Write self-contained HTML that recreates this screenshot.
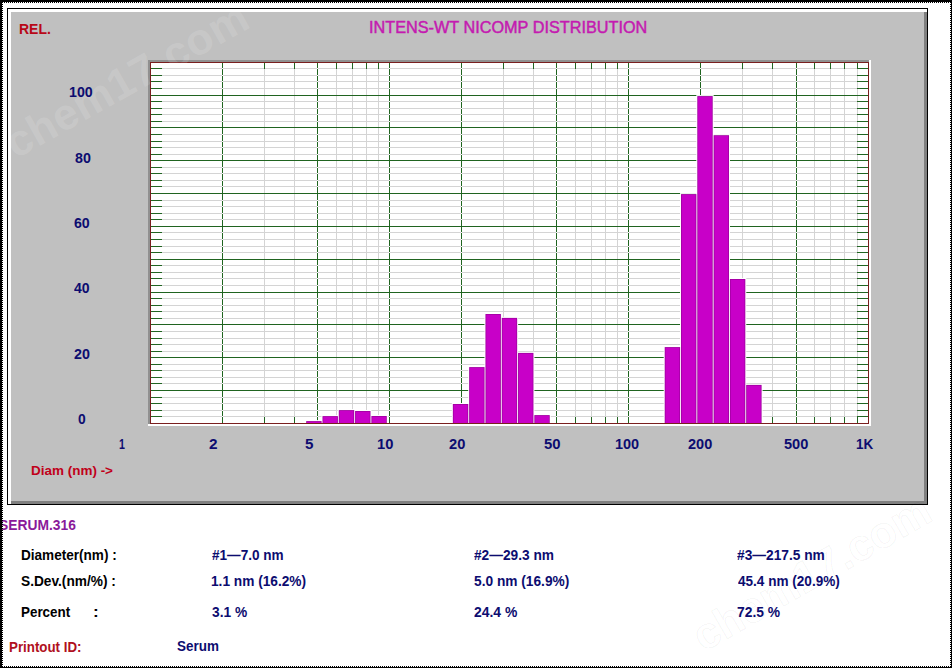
<!DOCTYPE html>
<html><head><meta charset="utf-8"><style>
html,body{margin:0;padding:0}
body{width:952px;height:668px;position:relative;overflow:hidden;background:#fff}
.wm{position:absolute;white-space:pre;line-height:1;font-family:"Liberation Sans",sans-serif;font-weight:700}
.t{position:absolute;white-space:pre;line-height:1;font-family:"Liberation Sans",sans-serif;transform-origin:0 0}
</style></head><body><div id="wrap" style="position:absolute;left:0;top:0;width:952px;height:668px;">
<svg width="952" height="668" style="position:absolute;left:0;top:0"><rect x="0.00" y="0.00" width="952.00" height="668.00" fill="#fff"/><rect x="7.00" y="8.00" width="921.00" height="497.00" fill="#000"/><rect x="8.00" y="9.00" width="919.00" height="495.00" fill="#fff"/><rect x="11.00" y="12.00" width="916.00" height="492.00" fill="#808080"/><rect x="11.00" y="12.00" width="913.00" height="489.00" fill="#c0c0c0"/><rect x="148.00" y="60.00" width="721.00" height="2.00" fill="#909090"/><rect x="148.00" y="60.00" width="2.00" height="364.00" fill="#909090"/><rect x="869.00" y="60.00" width="2.00" height="366.00" fill="#fff"/><rect x="148.00" y="424.00" width="723.00" height="2.00" fill="#fff"/><rect x="150.00" y="62.00" width="719.00" height="362.00" fill="#7a1e1e"/><rect x="151.00" y="63.00" width="717.00" height="360.00" fill="#fff"/><rect x="264.00" y="63.00" width="1.00" height="360.00" fill="#d4d4d4"/><rect x="294.00" y="63.00" width="1.00" height="360.00" fill="#d4d4d4"/><rect x="336.00" y="63.00" width="1.00" height="360.00" fill="#d4d4d4"/><rect x="352.00" y="63.00" width="1.00" height="360.00" fill="#d4d4d4"/><rect x="366.00" y="63.00" width="1.00" height="360.00" fill="#d4d4d4"/><rect x="378.00" y="63.00" width="1.00" height="360.00" fill="#d4d4d4"/><rect x="503.00" y="63.00" width="1.00" height="360.00" fill="#d4d4d4"/><rect x="533.00" y="63.00" width="1.00" height="360.00" fill="#d4d4d4"/><rect x="575.00" y="63.00" width="1.00" height="360.00" fill="#d4d4d4"/><rect x="591.00" y="63.00" width="1.00" height="360.00" fill="#d4d4d4"/><rect x="605.00" y="63.00" width="1.00" height="360.00" fill="#d4d4d4"/><rect x="617.00" y="63.00" width="1.00" height="360.00" fill="#d4d4d4"/><rect x="742.00" y="63.00" width="1.00" height="360.00" fill="#d4d4d4"/><rect x="772.00" y="63.00" width="1.00" height="360.00" fill="#d4d4d4"/><rect x="814.00" y="63.00" width="1.00" height="360.00" fill="#d4d4d4"/><rect x="830.00" y="63.00" width="1.00" height="360.00" fill="#d4d4d4"/><rect x="844.00" y="63.00" width="1.00" height="360.00" fill="#d4d4d4"/><rect x="857.00" y="63.00" width="1.00" height="360.00" fill="#d4d4d4"/><rect x="222.00" y="63.00" width="1.00" height="360.00" fill="#206420"/><rect x="317.00" y="63.00" width="1.00" height="360.00" fill="#206420"/><rect x="389.00" y="63.00" width="1.00" height="360.00" fill="#206420"/><rect x="461.00" y="63.00" width="1.00" height="360.00" fill="#206420"/><rect x="556.00" y="63.00" width="1.00" height="360.00" fill="#206420"/><rect x="628.00" y="63.00" width="1.00" height="360.00" fill="#206420"/><rect x="700.00" y="63.00" width="1.00" height="360.00" fill="#206420"/><rect x="796.00" y="63.00" width="1.00" height="360.00" fill="#206420"/><rect x="151.00" y="416.00" width="717.00" height="1.00" fill="#d4d4d4"/><rect x="222.00" y="416.00" width="1.00" height="1.00" fill="#f4f4f4"/><rect x="317.00" y="416.00" width="1.00" height="1.00" fill="#f4f4f4"/><rect x="389.00" y="416.00" width="1.00" height="1.00" fill="#f4f4f4"/><rect x="461.00" y="416.00" width="1.00" height="1.00" fill="#f4f4f4"/><rect x="556.00" y="416.00" width="1.00" height="1.00" fill="#f4f4f4"/><rect x="628.00" y="416.00" width="1.00" height="1.00" fill="#f4f4f4"/><rect x="700.00" y="416.00" width="1.00" height="1.00" fill="#f4f4f4"/><rect x="796.00" y="416.00" width="1.00" height="1.00" fill="#f4f4f4"/><rect x="151.00" y="416.00" width="11.00" height="1.00" fill="#206420"/><rect x="857.00" y="416.00" width="11.00" height="1.00" fill="#206420"/><rect x="151.00" y="410.00" width="717.00" height="1.00" fill="#d4d4d4"/><rect x="222.00" y="410.00" width="1.00" height="1.00" fill="#f4f4f4"/><rect x="317.00" y="410.00" width="1.00" height="1.00" fill="#f4f4f4"/><rect x="389.00" y="410.00" width="1.00" height="1.00" fill="#f4f4f4"/><rect x="461.00" y="410.00" width="1.00" height="1.00" fill="#f4f4f4"/><rect x="556.00" y="410.00" width="1.00" height="1.00" fill="#f4f4f4"/><rect x="628.00" y="410.00" width="1.00" height="1.00" fill="#f4f4f4"/><rect x="700.00" y="410.00" width="1.00" height="1.00" fill="#f4f4f4"/><rect x="796.00" y="410.00" width="1.00" height="1.00" fill="#f4f4f4"/><rect x="151.00" y="410.00" width="11.00" height="1.00" fill="#206420"/><rect x="857.00" y="410.00" width="11.00" height="1.00" fill="#206420"/><rect x="151.00" y="403.00" width="717.00" height="1.00" fill="#d4d4d4"/><rect x="222.00" y="403.00" width="1.00" height="1.00" fill="#f4f4f4"/><rect x="317.00" y="403.00" width="1.00" height="1.00" fill="#f4f4f4"/><rect x="389.00" y="403.00" width="1.00" height="1.00" fill="#f4f4f4"/><rect x="461.00" y="403.00" width="1.00" height="1.00" fill="#f4f4f4"/><rect x="556.00" y="403.00" width="1.00" height="1.00" fill="#f4f4f4"/><rect x="628.00" y="403.00" width="1.00" height="1.00" fill="#f4f4f4"/><rect x="700.00" y="403.00" width="1.00" height="1.00" fill="#f4f4f4"/><rect x="796.00" y="403.00" width="1.00" height="1.00" fill="#f4f4f4"/><rect x="151.00" y="403.00" width="11.00" height="1.00" fill="#206420"/><rect x="857.00" y="403.00" width="11.00" height="1.00" fill="#206420"/><rect x="151.00" y="397.00" width="717.00" height="1.00" fill="#d4d4d4"/><rect x="222.00" y="397.00" width="1.00" height="1.00" fill="#f4f4f4"/><rect x="317.00" y="397.00" width="1.00" height="1.00" fill="#f4f4f4"/><rect x="389.00" y="397.00" width="1.00" height="1.00" fill="#f4f4f4"/><rect x="461.00" y="397.00" width="1.00" height="1.00" fill="#f4f4f4"/><rect x="556.00" y="397.00" width="1.00" height="1.00" fill="#f4f4f4"/><rect x="628.00" y="397.00" width="1.00" height="1.00" fill="#f4f4f4"/><rect x="700.00" y="397.00" width="1.00" height="1.00" fill="#f4f4f4"/><rect x="796.00" y="397.00" width="1.00" height="1.00" fill="#f4f4f4"/><rect x="151.00" y="397.00" width="11.00" height="1.00" fill="#206420"/><rect x="857.00" y="397.00" width="11.00" height="1.00" fill="#206420"/><rect x="151.00" y="383.00" width="717.00" height="1.00" fill="#d4d4d4"/><rect x="222.00" y="383.00" width="1.00" height="1.00" fill="#f4f4f4"/><rect x="317.00" y="383.00" width="1.00" height="1.00" fill="#f4f4f4"/><rect x="389.00" y="383.00" width="1.00" height="1.00" fill="#f4f4f4"/><rect x="461.00" y="383.00" width="1.00" height="1.00" fill="#f4f4f4"/><rect x="556.00" y="383.00" width="1.00" height="1.00" fill="#f4f4f4"/><rect x="628.00" y="383.00" width="1.00" height="1.00" fill="#f4f4f4"/><rect x="700.00" y="383.00" width="1.00" height="1.00" fill="#f4f4f4"/><rect x="796.00" y="383.00" width="1.00" height="1.00" fill="#f4f4f4"/><rect x="151.00" y="383.00" width="11.00" height="1.00" fill="#206420"/><rect x="857.00" y="383.00" width="11.00" height="1.00" fill="#206420"/><rect x="151.00" y="377.00" width="717.00" height="1.00" fill="#d4d4d4"/><rect x="222.00" y="377.00" width="1.00" height="1.00" fill="#f4f4f4"/><rect x="317.00" y="377.00" width="1.00" height="1.00" fill="#f4f4f4"/><rect x="389.00" y="377.00" width="1.00" height="1.00" fill="#f4f4f4"/><rect x="461.00" y="377.00" width="1.00" height="1.00" fill="#f4f4f4"/><rect x="556.00" y="377.00" width="1.00" height="1.00" fill="#f4f4f4"/><rect x="628.00" y="377.00" width="1.00" height="1.00" fill="#f4f4f4"/><rect x="700.00" y="377.00" width="1.00" height="1.00" fill="#f4f4f4"/><rect x="796.00" y="377.00" width="1.00" height="1.00" fill="#f4f4f4"/><rect x="151.00" y="377.00" width="11.00" height="1.00" fill="#206420"/><rect x="857.00" y="377.00" width="11.00" height="1.00" fill="#206420"/><rect x="151.00" y="370.00" width="717.00" height="1.00" fill="#d4d4d4"/><rect x="222.00" y="370.00" width="1.00" height="1.00" fill="#f4f4f4"/><rect x="317.00" y="370.00" width="1.00" height="1.00" fill="#f4f4f4"/><rect x="389.00" y="370.00" width="1.00" height="1.00" fill="#f4f4f4"/><rect x="461.00" y="370.00" width="1.00" height="1.00" fill="#f4f4f4"/><rect x="556.00" y="370.00" width="1.00" height="1.00" fill="#f4f4f4"/><rect x="628.00" y="370.00" width="1.00" height="1.00" fill="#f4f4f4"/><rect x="700.00" y="370.00" width="1.00" height="1.00" fill="#f4f4f4"/><rect x="796.00" y="370.00" width="1.00" height="1.00" fill="#f4f4f4"/><rect x="151.00" y="370.00" width="11.00" height="1.00" fill="#206420"/><rect x="857.00" y="370.00" width="11.00" height="1.00" fill="#206420"/><rect x="151.00" y="364.00" width="717.00" height="1.00" fill="#d4d4d4"/><rect x="222.00" y="364.00" width="1.00" height="1.00" fill="#f4f4f4"/><rect x="317.00" y="364.00" width="1.00" height="1.00" fill="#f4f4f4"/><rect x="389.00" y="364.00" width="1.00" height="1.00" fill="#f4f4f4"/><rect x="461.00" y="364.00" width="1.00" height="1.00" fill="#f4f4f4"/><rect x="556.00" y="364.00" width="1.00" height="1.00" fill="#f4f4f4"/><rect x="628.00" y="364.00" width="1.00" height="1.00" fill="#f4f4f4"/><rect x="700.00" y="364.00" width="1.00" height="1.00" fill="#f4f4f4"/><rect x="796.00" y="364.00" width="1.00" height="1.00" fill="#f4f4f4"/><rect x="151.00" y="364.00" width="11.00" height="1.00" fill="#206420"/><rect x="857.00" y="364.00" width="11.00" height="1.00" fill="#206420"/><rect x="151.00" y="351.00" width="717.00" height="1.00" fill="#d4d4d4"/><rect x="222.00" y="351.00" width="1.00" height="1.00" fill="#f4f4f4"/><rect x="317.00" y="351.00" width="1.00" height="1.00" fill="#f4f4f4"/><rect x="389.00" y="351.00" width="1.00" height="1.00" fill="#f4f4f4"/><rect x="461.00" y="351.00" width="1.00" height="1.00" fill="#f4f4f4"/><rect x="556.00" y="351.00" width="1.00" height="1.00" fill="#f4f4f4"/><rect x="628.00" y="351.00" width="1.00" height="1.00" fill="#f4f4f4"/><rect x="700.00" y="351.00" width="1.00" height="1.00" fill="#f4f4f4"/><rect x="796.00" y="351.00" width="1.00" height="1.00" fill="#f4f4f4"/><rect x="151.00" y="351.00" width="11.00" height="1.00" fill="#206420"/><rect x="857.00" y="351.00" width="11.00" height="1.00" fill="#206420"/><rect x="151.00" y="344.00" width="717.00" height="1.00" fill="#d4d4d4"/><rect x="222.00" y="344.00" width="1.00" height="1.00" fill="#f4f4f4"/><rect x="317.00" y="344.00" width="1.00" height="1.00" fill="#f4f4f4"/><rect x="389.00" y="344.00" width="1.00" height="1.00" fill="#f4f4f4"/><rect x="461.00" y="344.00" width="1.00" height="1.00" fill="#f4f4f4"/><rect x="556.00" y="344.00" width="1.00" height="1.00" fill="#f4f4f4"/><rect x="628.00" y="344.00" width="1.00" height="1.00" fill="#f4f4f4"/><rect x="700.00" y="344.00" width="1.00" height="1.00" fill="#f4f4f4"/><rect x="796.00" y="344.00" width="1.00" height="1.00" fill="#f4f4f4"/><rect x="151.00" y="344.00" width="11.00" height="1.00" fill="#206420"/><rect x="857.00" y="344.00" width="11.00" height="1.00" fill="#206420"/><rect x="151.00" y="338.00" width="717.00" height="1.00" fill="#d4d4d4"/><rect x="222.00" y="338.00" width="1.00" height="1.00" fill="#f4f4f4"/><rect x="317.00" y="338.00" width="1.00" height="1.00" fill="#f4f4f4"/><rect x="389.00" y="338.00" width="1.00" height="1.00" fill="#f4f4f4"/><rect x="461.00" y="338.00" width="1.00" height="1.00" fill="#f4f4f4"/><rect x="556.00" y="338.00" width="1.00" height="1.00" fill="#f4f4f4"/><rect x="628.00" y="338.00" width="1.00" height="1.00" fill="#f4f4f4"/><rect x="700.00" y="338.00" width="1.00" height="1.00" fill="#f4f4f4"/><rect x="796.00" y="338.00" width="1.00" height="1.00" fill="#f4f4f4"/><rect x="151.00" y="338.00" width="11.00" height="1.00" fill="#206420"/><rect x="857.00" y="338.00" width="11.00" height="1.00" fill="#206420"/><rect x="151.00" y="331.00" width="717.00" height="1.00" fill="#d4d4d4"/><rect x="222.00" y="331.00" width="1.00" height="1.00" fill="#f4f4f4"/><rect x="317.00" y="331.00" width="1.00" height="1.00" fill="#f4f4f4"/><rect x="389.00" y="331.00" width="1.00" height="1.00" fill="#f4f4f4"/><rect x="461.00" y="331.00" width="1.00" height="1.00" fill="#f4f4f4"/><rect x="556.00" y="331.00" width="1.00" height="1.00" fill="#f4f4f4"/><rect x="628.00" y="331.00" width="1.00" height="1.00" fill="#f4f4f4"/><rect x="700.00" y="331.00" width="1.00" height="1.00" fill="#f4f4f4"/><rect x="796.00" y="331.00" width="1.00" height="1.00" fill="#f4f4f4"/><rect x="151.00" y="331.00" width="11.00" height="1.00" fill="#206420"/><rect x="857.00" y="331.00" width="11.00" height="1.00" fill="#206420"/><rect x="151.00" y="318.00" width="717.00" height="1.00" fill="#d4d4d4"/><rect x="222.00" y="318.00" width="1.00" height="1.00" fill="#f4f4f4"/><rect x="317.00" y="318.00" width="1.00" height="1.00" fill="#f4f4f4"/><rect x="389.00" y="318.00" width="1.00" height="1.00" fill="#f4f4f4"/><rect x="461.00" y="318.00" width="1.00" height="1.00" fill="#f4f4f4"/><rect x="556.00" y="318.00" width="1.00" height="1.00" fill="#f4f4f4"/><rect x="628.00" y="318.00" width="1.00" height="1.00" fill="#f4f4f4"/><rect x="700.00" y="318.00" width="1.00" height="1.00" fill="#f4f4f4"/><rect x="796.00" y="318.00" width="1.00" height="1.00" fill="#f4f4f4"/><rect x="151.00" y="318.00" width="11.00" height="1.00" fill="#206420"/><rect x="857.00" y="318.00" width="11.00" height="1.00" fill="#206420"/><rect x="151.00" y="311.00" width="717.00" height="1.00" fill="#d4d4d4"/><rect x="222.00" y="311.00" width="1.00" height="1.00" fill="#f4f4f4"/><rect x="317.00" y="311.00" width="1.00" height="1.00" fill="#f4f4f4"/><rect x="389.00" y="311.00" width="1.00" height="1.00" fill="#f4f4f4"/><rect x="461.00" y="311.00" width="1.00" height="1.00" fill="#f4f4f4"/><rect x="556.00" y="311.00" width="1.00" height="1.00" fill="#f4f4f4"/><rect x="628.00" y="311.00" width="1.00" height="1.00" fill="#f4f4f4"/><rect x="700.00" y="311.00" width="1.00" height="1.00" fill="#f4f4f4"/><rect x="796.00" y="311.00" width="1.00" height="1.00" fill="#f4f4f4"/><rect x="151.00" y="311.00" width="11.00" height="1.00" fill="#206420"/><rect x="857.00" y="311.00" width="11.00" height="1.00" fill="#206420"/><rect x="151.00" y="305.00" width="717.00" height="1.00" fill="#d4d4d4"/><rect x="222.00" y="305.00" width="1.00" height="1.00" fill="#f4f4f4"/><rect x="317.00" y="305.00" width="1.00" height="1.00" fill="#f4f4f4"/><rect x="389.00" y="305.00" width="1.00" height="1.00" fill="#f4f4f4"/><rect x="461.00" y="305.00" width="1.00" height="1.00" fill="#f4f4f4"/><rect x="556.00" y="305.00" width="1.00" height="1.00" fill="#f4f4f4"/><rect x="628.00" y="305.00" width="1.00" height="1.00" fill="#f4f4f4"/><rect x="700.00" y="305.00" width="1.00" height="1.00" fill="#f4f4f4"/><rect x="796.00" y="305.00" width="1.00" height="1.00" fill="#f4f4f4"/><rect x="151.00" y="305.00" width="11.00" height="1.00" fill="#206420"/><rect x="857.00" y="305.00" width="11.00" height="1.00" fill="#206420"/><rect x="151.00" y="298.00" width="717.00" height="1.00" fill="#d4d4d4"/><rect x="222.00" y="298.00" width="1.00" height="1.00" fill="#f4f4f4"/><rect x="317.00" y="298.00" width="1.00" height="1.00" fill="#f4f4f4"/><rect x="389.00" y="298.00" width="1.00" height="1.00" fill="#f4f4f4"/><rect x="461.00" y="298.00" width="1.00" height="1.00" fill="#f4f4f4"/><rect x="556.00" y="298.00" width="1.00" height="1.00" fill="#f4f4f4"/><rect x="628.00" y="298.00" width="1.00" height="1.00" fill="#f4f4f4"/><rect x="700.00" y="298.00" width="1.00" height="1.00" fill="#f4f4f4"/><rect x="796.00" y="298.00" width="1.00" height="1.00" fill="#f4f4f4"/><rect x="151.00" y="298.00" width="11.00" height="1.00" fill="#206420"/><rect x="857.00" y="298.00" width="11.00" height="1.00" fill="#206420"/><rect x="151.00" y="285.00" width="717.00" height="1.00" fill="#d4d4d4"/><rect x="222.00" y="285.00" width="1.00" height="1.00" fill="#f4f4f4"/><rect x="317.00" y="285.00" width="1.00" height="1.00" fill="#f4f4f4"/><rect x="389.00" y="285.00" width="1.00" height="1.00" fill="#f4f4f4"/><rect x="461.00" y="285.00" width="1.00" height="1.00" fill="#f4f4f4"/><rect x="556.00" y="285.00" width="1.00" height="1.00" fill="#f4f4f4"/><rect x="628.00" y="285.00" width="1.00" height="1.00" fill="#f4f4f4"/><rect x="700.00" y="285.00" width="1.00" height="1.00" fill="#f4f4f4"/><rect x="796.00" y="285.00" width="1.00" height="1.00" fill="#f4f4f4"/><rect x="151.00" y="285.00" width="11.00" height="1.00" fill="#206420"/><rect x="857.00" y="285.00" width="11.00" height="1.00" fill="#206420"/><rect x="151.00" y="278.00" width="717.00" height="1.00" fill="#d4d4d4"/><rect x="222.00" y="278.00" width="1.00" height="1.00" fill="#f4f4f4"/><rect x="317.00" y="278.00" width="1.00" height="1.00" fill="#f4f4f4"/><rect x="389.00" y="278.00" width="1.00" height="1.00" fill="#f4f4f4"/><rect x="461.00" y="278.00" width="1.00" height="1.00" fill="#f4f4f4"/><rect x="556.00" y="278.00" width="1.00" height="1.00" fill="#f4f4f4"/><rect x="628.00" y="278.00" width="1.00" height="1.00" fill="#f4f4f4"/><rect x="700.00" y="278.00" width="1.00" height="1.00" fill="#f4f4f4"/><rect x="796.00" y="278.00" width="1.00" height="1.00" fill="#f4f4f4"/><rect x="151.00" y="278.00" width="11.00" height="1.00" fill="#206420"/><rect x="857.00" y="278.00" width="11.00" height="1.00" fill="#206420"/><rect x="151.00" y="272.00" width="717.00" height="1.00" fill="#d4d4d4"/><rect x="222.00" y="272.00" width="1.00" height="1.00" fill="#f4f4f4"/><rect x="317.00" y="272.00" width="1.00" height="1.00" fill="#f4f4f4"/><rect x="389.00" y="272.00" width="1.00" height="1.00" fill="#f4f4f4"/><rect x="461.00" y="272.00" width="1.00" height="1.00" fill="#f4f4f4"/><rect x="556.00" y="272.00" width="1.00" height="1.00" fill="#f4f4f4"/><rect x="628.00" y="272.00" width="1.00" height="1.00" fill="#f4f4f4"/><rect x="700.00" y="272.00" width="1.00" height="1.00" fill="#f4f4f4"/><rect x="796.00" y="272.00" width="1.00" height="1.00" fill="#f4f4f4"/><rect x="151.00" y="272.00" width="11.00" height="1.00" fill="#206420"/><rect x="857.00" y="272.00" width="11.00" height="1.00" fill="#206420"/><rect x="151.00" y="265.00" width="717.00" height="1.00" fill="#d4d4d4"/><rect x="222.00" y="265.00" width="1.00" height="1.00" fill="#f4f4f4"/><rect x="317.00" y="265.00" width="1.00" height="1.00" fill="#f4f4f4"/><rect x="389.00" y="265.00" width="1.00" height="1.00" fill="#f4f4f4"/><rect x="461.00" y="265.00" width="1.00" height="1.00" fill="#f4f4f4"/><rect x="556.00" y="265.00" width="1.00" height="1.00" fill="#f4f4f4"/><rect x="628.00" y="265.00" width="1.00" height="1.00" fill="#f4f4f4"/><rect x="700.00" y="265.00" width="1.00" height="1.00" fill="#f4f4f4"/><rect x="796.00" y="265.00" width="1.00" height="1.00" fill="#f4f4f4"/><rect x="151.00" y="265.00" width="11.00" height="1.00" fill="#206420"/><rect x="857.00" y="265.00" width="11.00" height="1.00" fill="#206420"/><rect x="151.00" y="252.00" width="717.00" height="1.00" fill="#d4d4d4"/><rect x="222.00" y="252.00" width="1.00" height="1.00" fill="#f4f4f4"/><rect x="317.00" y="252.00" width="1.00" height="1.00" fill="#f4f4f4"/><rect x="389.00" y="252.00" width="1.00" height="1.00" fill="#f4f4f4"/><rect x="461.00" y="252.00" width="1.00" height="1.00" fill="#f4f4f4"/><rect x="556.00" y="252.00" width="1.00" height="1.00" fill="#f4f4f4"/><rect x="628.00" y="252.00" width="1.00" height="1.00" fill="#f4f4f4"/><rect x="700.00" y="252.00" width="1.00" height="1.00" fill="#f4f4f4"/><rect x="796.00" y="252.00" width="1.00" height="1.00" fill="#f4f4f4"/><rect x="151.00" y="252.00" width="11.00" height="1.00" fill="#206420"/><rect x="857.00" y="252.00" width="11.00" height="1.00" fill="#206420"/><rect x="151.00" y="246.00" width="717.00" height="1.00" fill="#d4d4d4"/><rect x="222.00" y="246.00" width="1.00" height="1.00" fill="#f4f4f4"/><rect x="317.00" y="246.00" width="1.00" height="1.00" fill="#f4f4f4"/><rect x="389.00" y="246.00" width="1.00" height="1.00" fill="#f4f4f4"/><rect x="461.00" y="246.00" width="1.00" height="1.00" fill="#f4f4f4"/><rect x="556.00" y="246.00" width="1.00" height="1.00" fill="#f4f4f4"/><rect x="628.00" y="246.00" width="1.00" height="1.00" fill="#f4f4f4"/><rect x="700.00" y="246.00" width="1.00" height="1.00" fill="#f4f4f4"/><rect x="796.00" y="246.00" width="1.00" height="1.00" fill="#f4f4f4"/><rect x="151.00" y="246.00" width="11.00" height="1.00" fill="#206420"/><rect x="857.00" y="246.00" width="11.00" height="1.00" fill="#206420"/><rect x="151.00" y="239.00" width="717.00" height="1.00" fill="#d4d4d4"/><rect x="222.00" y="239.00" width="1.00" height="1.00" fill="#f4f4f4"/><rect x="317.00" y="239.00" width="1.00" height="1.00" fill="#f4f4f4"/><rect x="389.00" y="239.00" width="1.00" height="1.00" fill="#f4f4f4"/><rect x="461.00" y="239.00" width="1.00" height="1.00" fill="#f4f4f4"/><rect x="556.00" y="239.00" width="1.00" height="1.00" fill="#f4f4f4"/><rect x="628.00" y="239.00" width="1.00" height="1.00" fill="#f4f4f4"/><rect x="700.00" y="239.00" width="1.00" height="1.00" fill="#f4f4f4"/><rect x="796.00" y="239.00" width="1.00" height="1.00" fill="#f4f4f4"/><rect x="151.00" y="239.00" width="11.00" height="1.00" fill="#206420"/><rect x="857.00" y="239.00" width="11.00" height="1.00" fill="#206420"/><rect x="151.00" y="232.00" width="717.00" height="1.00" fill="#d4d4d4"/><rect x="222.00" y="232.00" width="1.00" height="1.00" fill="#f4f4f4"/><rect x="317.00" y="232.00" width="1.00" height="1.00" fill="#f4f4f4"/><rect x="389.00" y="232.00" width="1.00" height="1.00" fill="#f4f4f4"/><rect x="461.00" y="232.00" width="1.00" height="1.00" fill="#f4f4f4"/><rect x="556.00" y="232.00" width="1.00" height="1.00" fill="#f4f4f4"/><rect x="628.00" y="232.00" width="1.00" height="1.00" fill="#f4f4f4"/><rect x="700.00" y="232.00" width="1.00" height="1.00" fill="#f4f4f4"/><rect x="796.00" y="232.00" width="1.00" height="1.00" fill="#f4f4f4"/><rect x="151.00" y="232.00" width="11.00" height="1.00" fill="#206420"/><rect x="857.00" y="232.00" width="11.00" height="1.00" fill="#206420"/><rect x="151.00" y="219.00" width="717.00" height="1.00" fill="#d4d4d4"/><rect x="222.00" y="219.00" width="1.00" height="1.00" fill="#f4f4f4"/><rect x="317.00" y="219.00" width="1.00" height="1.00" fill="#f4f4f4"/><rect x="389.00" y="219.00" width="1.00" height="1.00" fill="#f4f4f4"/><rect x="461.00" y="219.00" width="1.00" height="1.00" fill="#f4f4f4"/><rect x="556.00" y="219.00" width="1.00" height="1.00" fill="#f4f4f4"/><rect x="628.00" y="219.00" width="1.00" height="1.00" fill="#f4f4f4"/><rect x="700.00" y="219.00" width="1.00" height="1.00" fill="#f4f4f4"/><rect x="796.00" y="219.00" width="1.00" height="1.00" fill="#f4f4f4"/><rect x="151.00" y="219.00" width="11.00" height="1.00" fill="#206420"/><rect x="857.00" y="219.00" width="11.00" height="1.00" fill="#206420"/><rect x="151.00" y="213.00" width="717.00" height="1.00" fill="#d4d4d4"/><rect x="222.00" y="213.00" width="1.00" height="1.00" fill="#f4f4f4"/><rect x="317.00" y="213.00" width="1.00" height="1.00" fill="#f4f4f4"/><rect x="389.00" y="213.00" width="1.00" height="1.00" fill="#f4f4f4"/><rect x="461.00" y="213.00" width="1.00" height="1.00" fill="#f4f4f4"/><rect x="556.00" y="213.00" width="1.00" height="1.00" fill="#f4f4f4"/><rect x="628.00" y="213.00" width="1.00" height="1.00" fill="#f4f4f4"/><rect x="700.00" y="213.00" width="1.00" height="1.00" fill="#f4f4f4"/><rect x="796.00" y="213.00" width="1.00" height="1.00" fill="#f4f4f4"/><rect x="151.00" y="213.00" width="11.00" height="1.00" fill="#206420"/><rect x="857.00" y="213.00" width="11.00" height="1.00" fill="#206420"/><rect x="151.00" y="206.00" width="717.00" height="1.00" fill="#d4d4d4"/><rect x="222.00" y="206.00" width="1.00" height="1.00" fill="#f4f4f4"/><rect x="317.00" y="206.00" width="1.00" height="1.00" fill="#f4f4f4"/><rect x="389.00" y="206.00" width="1.00" height="1.00" fill="#f4f4f4"/><rect x="461.00" y="206.00" width="1.00" height="1.00" fill="#f4f4f4"/><rect x="556.00" y="206.00" width="1.00" height="1.00" fill="#f4f4f4"/><rect x="628.00" y="206.00" width="1.00" height="1.00" fill="#f4f4f4"/><rect x="700.00" y="206.00" width="1.00" height="1.00" fill="#f4f4f4"/><rect x="796.00" y="206.00" width="1.00" height="1.00" fill="#f4f4f4"/><rect x="151.00" y="206.00" width="11.00" height="1.00" fill="#206420"/><rect x="857.00" y="206.00" width="11.00" height="1.00" fill="#206420"/><rect x="151.00" y="200.00" width="717.00" height="1.00" fill="#d4d4d4"/><rect x="222.00" y="200.00" width="1.00" height="1.00" fill="#f4f4f4"/><rect x="317.00" y="200.00" width="1.00" height="1.00" fill="#f4f4f4"/><rect x="389.00" y="200.00" width="1.00" height="1.00" fill="#f4f4f4"/><rect x="461.00" y="200.00" width="1.00" height="1.00" fill="#f4f4f4"/><rect x="556.00" y="200.00" width="1.00" height="1.00" fill="#f4f4f4"/><rect x="628.00" y="200.00" width="1.00" height="1.00" fill="#f4f4f4"/><rect x="700.00" y="200.00" width="1.00" height="1.00" fill="#f4f4f4"/><rect x="796.00" y="200.00" width="1.00" height="1.00" fill="#f4f4f4"/><rect x="151.00" y="200.00" width="11.00" height="1.00" fill="#206420"/><rect x="857.00" y="200.00" width="11.00" height="1.00" fill="#206420"/><rect x="151.00" y="186.00" width="717.00" height="1.00" fill="#d4d4d4"/><rect x="222.00" y="186.00" width="1.00" height="1.00" fill="#f4f4f4"/><rect x="317.00" y="186.00" width="1.00" height="1.00" fill="#f4f4f4"/><rect x="389.00" y="186.00" width="1.00" height="1.00" fill="#f4f4f4"/><rect x="461.00" y="186.00" width="1.00" height="1.00" fill="#f4f4f4"/><rect x="556.00" y="186.00" width="1.00" height="1.00" fill="#f4f4f4"/><rect x="628.00" y="186.00" width="1.00" height="1.00" fill="#f4f4f4"/><rect x="700.00" y="186.00" width="1.00" height="1.00" fill="#f4f4f4"/><rect x="796.00" y="186.00" width="1.00" height="1.00" fill="#f4f4f4"/><rect x="151.00" y="186.00" width="11.00" height="1.00" fill="#206420"/><rect x="857.00" y="186.00" width="11.00" height="1.00" fill="#206420"/><rect x="151.00" y="180.00" width="717.00" height="1.00" fill="#d4d4d4"/><rect x="222.00" y="180.00" width="1.00" height="1.00" fill="#f4f4f4"/><rect x="317.00" y="180.00" width="1.00" height="1.00" fill="#f4f4f4"/><rect x="389.00" y="180.00" width="1.00" height="1.00" fill="#f4f4f4"/><rect x="461.00" y="180.00" width="1.00" height="1.00" fill="#f4f4f4"/><rect x="556.00" y="180.00" width="1.00" height="1.00" fill="#f4f4f4"/><rect x="628.00" y="180.00" width="1.00" height="1.00" fill="#f4f4f4"/><rect x="700.00" y="180.00" width="1.00" height="1.00" fill="#f4f4f4"/><rect x="796.00" y="180.00" width="1.00" height="1.00" fill="#f4f4f4"/><rect x="151.00" y="180.00" width="11.00" height="1.00" fill="#206420"/><rect x="857.00" y="180.00" width="11.00" height="1.00" fill="#206420"/><rect x="151.00" y="173.00" width="717.00" height="1.00" fill="#d4d4d4"/><rect x="222.00" y="173.00" width="1.00" height="1.00" fill="#f4f4f4"/><rect x="317.00" y="173.00" width="1.00" height="1.00" fill="#f4f4f4"/><rect x="389.00" y="173.00" width="1.00" height="1.00" fill="#f4f4f4"/><rect x="461.00" y="173.00" width="1.00" height="1.00" fill="#f4f4f4"/><rect x="556.00" y="173.00" width="1.00" height="1.00" fill="#f4f4f4"/><rect x="628.00" y="173.00" width="1.00" height="1.00" fill="#f4f4f4"/><rect x="700.00" y="173.00" width="1.00" height="1.00" fill="#f4f4f4"/><rect x="796.00" y="173.00" width="1.00" height="1.00" fill="#f4f4f4"/><rect x="151.00" y="173.00" width="11.00" height="1.00" fill="#206420"/><rect x="857.00" y="173.00" width="11.00" height="1.00" fill="#206420"/><rect x="151.00" y="167.00" width="717.00" height="1.00" fill="#d4d4d4"/><rect x="222.00" y="167.00" width="1.00" height="1.00" fill="#f4f4f4"/><rect x="317.00" y="167.00" width="1.00" height="1.00" fill="#f4f4f4"/><rect x="389.00" y="167.00" width="1.00" height="1.00" fill="#f4f4f4"/><rect x="461.00" y="167.00" width="1.00" height="1.00" fill="#f4f4f4"/><rect x="556.00" y="167.00" width="1.00" height="1.00" fill="#f4f4f4"/><rect x="628.00" y="167.00" width="1.00" height="1.00" fill="#f4f4f4"/><rect x="700.00" y="167.00" width="1.00" height="1.00" fill="#f4f4f4"/><rect x="796.00" y="167.00" width="1.00" height="1.00" fill="#f4f4f4"/><rect x="151.00" y="167.00" width="11.00" height="1.00" fill="#206420"/><rect x="857.00" y="167.00" width="11.00" height="1.00" fill="#206420"/><rect x="151.00" y="154.00" width="717.00" height="1.00" fill="#d4d4d4"/><rect x="222.00" y="154.00" width="1.00" height="1.00" fill="#f4f4f4"/><rect x="317.00" y="154.00" width="1.00" height="1.00" fill="#f4f4f4"/><rect x="389.00" y="154.00" width="1.00" height="1.00" fill="#f4f4f4"/><rect x="461.00" y="154.00" width="1.00" height="1.00" fill="#f4f4f4"/><rect x="556.00" y="154.00" width="1.00" height="1.00" fill="#f4f4f4"/><rect x="628.00" y="154.00" width="1.00" height="1.00" fill="#f4f4f4"/><rect x="700.00" y="154.00" width="1.00" height="1.00" fill="#f4f4f4"/><rect x="796.00" y="154.00" width="1.00" height="1.00" fill="#f4f4f4"/><rect x="151.00" y="154.00" width="11.00" height="1.00" fill="#206420"/><rect x="857.00" y="154.00" width="11.00" height="1.00" fill="#206420"/><rect x="151.00" y="147.00" width="717.00" height="1.00" fill="#d4d4d4"/><rect x="222.00" y="147.00" width="1.00" height="1.00" fill="#f4f4f4"/><rect x="317.00" y="147.00" width="1.00" height="1.00" fill="#f4f4f4"/><rect x="389.00" y="147.00" width="1.00" height="1.00" fill="#f4f4f4"/><rect x="461.00" y="147.00" width="1.00" height="1.00" fill="#f4f4f4"/><rect x="556.00" y="147.00" width="1.00" height="1.00" fill="#f4f4f4"/><rect x="628.00" y="147.00" width="1.00" height="1.00" fill="#f4f4f4"/><rect x="700.00" y="147.00" width="1.00" height="1.00" fill="#f4f4f4"/><rect x="796.00" y="147.00" width="1.00" height="1.00" fill="#f4f4f4"/><rect x="151.00" y="147.00" width="11.00" height="1.00" fill="#206420"/><rect x="857.00" y="147.00" width="11.00" height="1.00" fill="#206420"/><rect x="151.00" y="141.00" width="717.00" height="1.00" fill="#d4d4d4"/><rect x="222.00" y="141.00" width="1.00" height="1.00" fill="#f4f4f4"/><rect x="317.00" y="141.00" width="1.00" height="1.00" fill="#f4f4f4"/><rect x="389.00" y="141.00" width="1.00" height="1.00" fill="#f4f4f4"/><rect x="461.00" y="141.00" width="1.00" height="1.00" fill="#f4f4f4"/><rect x="556.00" y="141.00" width="1.00" height="1.00" fill="#f4f4f4"/><rect x="628.00" y="141.00" width="1.00" height="1.00" fill="#f4f4f4"/><rect x="700.00" y="141.00" width="1.00" height="1.00" fill="#f4f4f4"/><rect x="796.00" y="141.00" width="1.00" height="1.00" fill="#f4f4f4"/><rect x="151.00" y="141.00" width="11.00" height="1.00" fill="#206420"/><rect x="857.00" y="141.00" width="11.00" height="1.00" fill="#206420"/><rect x="151.00" y="134.00" width="717.00" height="1.00" fill="#d4d4d4"/><rect x="222.00" y="134.00" width="1.00" height="1.00" fill="#f4f4f4"/><rect x="317.00" y="134.00" width="1.00" height="1.00" fill="#f4f4f4"/><rect x="389.00" y="134.00" width="1.00" height="1.00" fill="#f4f4f4"/><rect x="461.00" y="134.00" width="1.00" height="1.00" fill="#f4f4f4"/><rect x="556.00" y="134.00" width="1.00" height="1.00" fill="#f4f4f4"/><rect x="628.00" y="134.00" width="1.00" height="1.00" fill="#f4f4f4"/><rect x="700.00" y="134.00" width="1.00" height="1.00" fill="#f4f4f4"/><rect x="796.00" y="134.00" width="1.00" height="1.00" fill="#f4f4f4"/><rect x="151.00" y="134.00" width="11.00" height="1.00" fill="#206420"/><rect x="857.00" y="134.00" width="11.00" height="1.00" fill="#206420"/><rect x="151.00" y="121.00" width="717.00" height="1.00" fill="#d4d4d4"/><rect x="222.00" y="121.00" width="1.00" height="1.00" fill="#f4f4f4"/><rect x="317.00" y="121.00" width="1.00" height="1.00" fill="#f4f4f4"/><rect x="389.00" y="121.00" width="1.00" height="1.00" fill="#f4f4f4"/><rect x="461.00" y="121.00" width="1.00" height="1.00" fill="#f4f4f4"/><rect x="556.00" y="121.00" width="1.00" height="1.00" fill="#f4f4f4"/><rect x="628.00" y="121.00" width="1.00" height="1.00" fill="#f4f4f4"/><rect x="700.00" y="121.00" width="1.00" height="1.00" fill="#f4f4f4"/><rect x="796.00" y="121.00" width="1.00" height="1.00" fill="#f4f4f4"/><rect x="151.00" y="121.00" width="11.00" height="1.00" fill="#206420"/><rect x="857.00" y="121.00" width="11.00" height="1.00" fill="#206420"/><rect x="151.00" y="114.00" width="717.00" height="1.00" fill="#d4d4d4"/><rect x="222.00" y="114.00" width="1.00" height="1.00" fill="#f4f4f4"/><rect x="317.00" y="114.00" width="1.00" height="1.00" fill="#f4f4f4"/><rect x="389.00" y="114.00" width="1.00" height="1.00" fill="#f4f4f4"/><rect x="461.00" y="114.00" width="1.00" height="1.00" fill="#f4f4f4"/><rect x="556.00" y="114.00" width="1.00" height="1.00" fill="#f4f4f4"/><rect x="628.00" y="114.00" width="1.00" height="1.00" fill="#f4f4f4"/><rect x="700.00" y="114.00" width="1.00" height="1.00" fill="#f4f4f4"/><rect x="796.00" y="114.00" width="1.00" height="1.00" fill="#f4f4f4"/><rect x="151.00" y="114.00" width="11.00" height="1.00" fill="#206420"/><rect x="857.00" y="114.00" width="11.00" height="1.00" fill="#206420"/><rect x="151.00" y="108.00" width="717.00" height="1.00" fill="#d4d4d4"/><rect x="222.00" y="108.00" width="1.00" height="1.00" fill="#f4f4f4"/><rect x="317.00" y="108.00" width="1.00" height="1.00" fill="#f4f4f4"/><rect x="389.00" y="108.00" width="1.00" height="1.00" fill="#f4f4f4"/><rect x="461.00" y="108.00" width="1.00" height="1.00" fill="#f4f4f4"/><rect x="556.00" y="108.00" width="1.00" height="1.00" fill="#f4f4f4"/><rect x="628.00" y="108.00" width="1.00" height="1.00" fill="#f4f4f4"/><rect x="700.00" y="108.00" width="1.00" height="1.00" fill="#f4f4f4"/><rect x="796.00" y="108.00" width="1.00" height="1.00" fill="#f4f4f4"/><rect x="151.00" y="108.00" width="11.00" height="1.00" fill="#206420"/><rect x="857.00" y="108.00" width="11.00" height="1.00" fill="#206420"/><rect x="151.00" y="101.00" width="717.00" height="1.00" fill="#d4d4d4"/><rect x="222.00" y="101.00" width="1.00" height="1.00" fill="#f4f4f4"/><rect x="317.00" y="101.00" width="1.00" height="1.00" fill="#f4f4f4"/><rect x="389.00" y="101.00" width="1.00" height="1.00" fill="#f4f4f4"/><rect x="461.00" y="101.00" width="1.00" height="1.00" fill="#f4f4f4"/><rect x="556.00" y="101.00" width="1.00" height="1.00" fill="#f4f4f4"/><rect x="628.00" y="101.00" width="1.00" height="1.00" fill="#f4f4f4"/><rect x="700.00" y="101.00" width="1.00" height="1.00" fill="#f4f4f4"/><rect x="796.00" y="101.00" width="1.00" height="1.00" fill="#f4f4f4"/><rect x="151.00" y="101.00" width="11.00" height="1.00" fill="#206420"/><rect x="857.00" y="101.00" width="11.00" height="1.00" fill="#206420"/><rect x="151.00" y="88.00" width="717.00" height="1.00" fill="#d4d4d4"/><rect x="222.00" y="88.00" width="1.00" height="1.00" fill="#f4f4f4"/><rect x="317.00" y="88.00" width="1.00" height="1.00" fill="#f4f4f4"/><rect x="389.00" y="88.00" width="1.00" height="1.00" fill="#f4f4f4"/><rect x="461.00" y="88.00" width="1.00" height="1.00" fill="#f4f4f4"/><rect x="556.00" y="88.00" width="1.00" height="1.00" fill="#f4f4f4"/><rect x="628.00" y="88.00" width="1.00" height="1.00" fill="#f4f4f4"/><rect x="700.00" y="88.00" width="1.00" height="1.00" fill="#f4f4f4"/><rect x="796.00" y="88.00" width="1.00" height="1.00" fill="#f4f4f4"/><rect x="151.00" y="88.00" width="11.00" height="1.00" fill="#206420"/><rect x="857.00" y="88.00" width="11.00" height="1.00" fill="#206420"/><rect x="151.00" y="81.00" width="717.00" height="1.00" fill="#d4d4d4"/><rect x="222.00" y="81.00" width="1.00" height="1.00" fill="#f4f4f4"/><rect x="317.00" y="81.00" width="1.00" height="1.00" fill="#f4f4f4"/><rect x="389.00" y="81.00" width="1.00" height="1.00" fill="#f4f4f4"/><rect x="461.00" y="81.00" width="1.00" height="1.00" fill="#f4f4f4"/><rect x="556.00" y="81.00" width="1.00" height="1.00" fill="#f4f4f4"/><rect x="628.00" y="81.00" width="1.00" height="1.00" fill="#f4f4f4"/><rect x="700.00" y="81.00" width="1.00" height="1.00" fill="#f4f4f4"/><rect x="796.00" y="81.00" width="1.00" height="1.00" fill="#f4f4f4"/><rect x="151.00" y="81.00" width="11.00" height="1.00" fill="#206420"/><rect x="857.00" y="81.00" width="11.00" height="1.00" fill="#206420"/><rect x="151.00" y="75.00" width="717.00" height="1.00" fill="#d4d4d4"/><rect x="222.00" y="75.00" width="1.00" height="1.00" fill="#f4f4f4"/><rect x="317.00" y="75.00" width="1.00" height="1.00" fill="#f4f4f4"/><rect x="389.00" y="75.00" width="1.00" height="1.00" fill="#f4f4f4"/><rect x="461.00" y="75.00" width="1.00" height="1.00" fill="#f4f4f4"/><rect x="556.00" y="75.00" width="1.00" height="1.00" fill="#f4f4f4"/><rect x="628.00" y="75.00" width="1.00" height="1.00" fill="#f4f4f4"/><rect x="700.00" y="75.00" width="1.00" height="1.00" fill="#f4f4f4"/><rect x="796.00" y="75.00" width="1.00" height="1.00" fill="#f4f4f4"/><rect x="151.00" y="75.00" width="11.00" height="1.00" fill="#206420"/><rect x="857.00" y="75.00" width="11.00" height="1.00" fill="#206420"/><rect x="151.00" y="68.00" width="717.00" height="1.00" fill="#d4d4d4"/><rect x="222.00" y="68.00" width="1.00" height="1.00" fill="#f4f4f4"/><rect x="317.00" y="68.00" width="1.00" height="1.00" fill="#f4f4f4"/><rect x="389.00" y="68.00" width="1.00" height="1.00" fill="#f4f4f4"/><rect x="461.00" y="68.00" width="1.00" height="1.00" fill="#f4f4f4"/><rect x="556.00" y="68.00" width="1.00" height="1.00" fill="#f4f4f4"/><rect x="628.00" y="68.00" width="1.00" height="1.00" fill="#f4f4f4"/><rect x="700.00" y="68.00" width="1.00" height="1.00" fill="#f4f4f4"/><rect x="796.00" y="68.00" width="1.00" height="1.00" fill="#f4f4f4"/><rect x="151.00" y="68.00" width="11.00" height="1.00" fill="#206420"/><rect x="857.00" y="68.00" width="11.00" height="1.00" fill="#206420"/><rect x="151.00" y="390.00" width="717.00" height="1.00" fill="#206420"/><rect x="151.00" y="357.00" width="717.00" height="1.00" fill="#206420"/><rect x="151.00" y="324.00" width="717.00" height="1.00" fill="#206420"/><rect x="151.00" y="292.00" width="717.00" height="1.00" fill="#206420"/><rect x="151.00" y="259.00" width="717.00" height="1.00" fill="#206420"/><rect x="151.00" y="226.00" width="717.00" height="1.00" fill="#206420"/><rect x="151.00" y="193.00" width="717.00" height="1.00" fill="#206420"/><rect x="151.00" y="160.00" width="717.00" height="1.00" fill="#206420"/><rect x="151.00" y="127.00" width="717.00" height="1.00" fill="#206420"/><rect x="151.00" y="95.00" width="717.00" height="1.00" fill="#206420"/><rect x="264.00" y="63.00" width="1.00" height="6.00" fill="#206420"/><rect x="264.00" y="417.00" width="1.00" height="6.00" fill="#206420"/><rect x="294.00" y="63.00" width="1.00" height="6.00" fill="#206420"/><rect x="294.00" y="417.00" width="1.00" height="6.00" fill="#206420"/><rect x="336.00" y="63.00" width="1.00" height="6.00" fill="#206420"/><rect x="336.00" y="417.00" width="1.00" height="6.00" fill="#206420"/><rect x="352.00" y="63.00" width="1.00" height="6.00" fill="#206420"/><rect x="352.00" y="417.00" width="1.00" height="6.00" fill="#206420"/><rect x="366.00" y="63.00" width="1.00" height="6.00" fill="#206420"/><rect x="366.00" y="417.00" width="1.00" height="6.00" fill="#206420"/><rect x="378.00" y="63.00" width="1.00" height="6.00" fill="#206420"/><rect x="378.00" y="417.00" width="1.00" height="6.00" fill="#206420"/><rect x="503.00" y="63.00" width="1.00" height="6.00" fill="#206420"/><rect x="503.00" y="417.00" width="1.00" height="6.00" fill="#206420"/><rect x="533.00" y="63.00" width="1.00" height="6.00" fill="#206420"/><rect x="533.00" y="417.00" width="1.00" height="6.00" fill="#206420"/><rect x="575.00" y="63.00" width="1.00" height="6.00" fill="#206420"/><rect x="575.00" y="417.00" width="1.00" height="6.00" fill="#206420"/><rect x="591.00" y="63.00" width="1.00" height="6.00" fill="#206420"/><rect x="591.00" y="417.00" width="1.00" height="6.00" fill="#206420"/><rect x="605.00" y="63.00" width="1.00" height="6.00" fill="#206420"/><rect x="605.00" y="417.00" width="1.00" height="6.00" fill="#206420"/><rect x="617.00" y="63.00" width="1.00" height="6.00" fill="#206420"/><rect x="617.00" y="417.00" width="1.00" height="6.00" fill="#206420"/><rect x="742.00" y="63.00" width="1.00" height="6.00" fill="#206420"/><rect x="742.00" y="417.00" width="1.00" height="6.00" fill="#206420"/><rect x="772.00" y="63.00" width="1.00" height="6.00" fill="#206420"/><rect x="772.00" y="417.00" width="1.00" height="6.00" fill="#206420"/><rect x="814.00" y="63.00" width="1.00" height="6.00" fill="#206420"/><rect x="814.00" y="417.00" width="1.00" height="6.00" fill="#206420"/><rect x="830.00" y="63.00" width="1.00" height="6.00" fill="#206420"/><rect x="830.00" y="417.00" width="1.00" height="6.00" fill="#206420"/><rect x="844.00" y="63.00" width="1.00" height="6.00" fill="#206420"/><rect x="844.00" y="417.00" width="1.00" height="6.00" fill="#206420"/><rect x="857.00" y="63.00" width="1.00" height="6.00" fill="#206420"/><rect x="857.00" y="417.00" width="1.00" height="6.00" fill="#206420"/><rect x="305.20" y="420.10" width="17.40" height="2.90" fill="#fff"/><rect x="321.50" y="415.10" width="17.40" height="7.90" fill="#fff"/><rect x="337.79" y="409.10" width="17.40" height="13.90" fill="#fff"/><rect x="354.09" y="410.00" width="17.40" height="13.00" fill="#fff"/><rect x="370.38" y="415.00" width="17.40" height="8.00" fill="#fff"/><rect x="451.86" y="403.00" width="17.40" height="20.00" fill="#fff"/><rect x="468.16" y="366.10" width="17.40" height="56.90" fill="#fff"/><rect x="484.46" y="313.00" width="17.40" height="110.00" fill="#fff"/><rect x="500.75" y="316.90" width="17.40" height="106.10" fill="#fff"/><rect x="517.05" y="351.90" width="17.40" height="71.10" fill="#fff"/><rect x="533.34" y="414.10" width="17.40" height="8.90" fill="#fff"/><rect x="663.71" y="346.10" width="17.40" height="76.90" fill="#fff"/><rect x="680.01" y="193.10" width="17.40" height="229.90" fill="#fff"/><rect x="696.30" y="95.10" width="17.40" height="327.90" fill="#fff"/><rect x="712.60" y="134.20" width="17.40" height="288.80" fill="#fff"/><rect x="728.90" y="278.00" width="17.40" height="145.00" fill="#fff"/><rect x="745.19" y="383.90" width="17.40" height="39.10" fill="#fff"/><rect x="306.20" y="421.10" width="15.40" height="1.90" fill="#a000a0"/><rect x="307.00" y="421.90" width="13.80" height="1.90" fill="#c800c8"/><rect x="322.50" y="416.10" width="15.40" height="6.90" fill="#a000a0"/><rect x="323.30" y="416.90" width="13.80" height="6.90" fill="#c800c8"/><rect x="338.79" y="410.10" width="15.40" height="12.90" fill="#a000a0"/><rect x="339.59" y="410.90" width="13.80" height="12.90" fill="#c800c8"/><rect x="355.09" y="411.00" width="15.40" height="12.00" fill="#a000a0"/><rect x="355.89" y="411.80" width="13.80" height="12.00" fill="#c800c8"/><rect x="371.38" y="416.00" width="15.40" height="7.00" fill="#a000a0"/><rect x="372.18" y="416.80" width="13.80" height="7.00" fill="#c800c8"/><rect x="452.86" y="404.00" width="15.40" height="19.00" fill="#a000a0"/><rect x="453.66" y="404.80" width="13.80" height="19.00" fill="#c800c8"/><rect x="469.16" y="367.10" width="15.40" height="55.90" fill="#a000a0"/><rect x="469.96" y="367.90" width="13.80" height="55.90" fill="#c800c8"/><rect x="485.46" y="314.00" width="15.40" height="109.00" fill="#a000a0"/><rect x="486.26" y="314.80" width="13.80" height="109.00" fill="#c800c8"/><rect x="501.75" y="317.90" width="15.40" height="105.10" fill="#a000a0"/><rect x="502.55" y="318.70" width="13.80" height="105.10" fill="#c800c8"/><rect x="518.05" y="352.90" width="15.40" height="70.10" fill="#a000a0"/><rect x="518.85" y="353.70" width="13.80" height="70.10" fill="#c800c8"/><rect x="534.34" y="415.10" width="15.40" height="7.90" fill="#a000a0"/><rect x="535.14" y="415.90" width="13.80" height="7.90" fill="#c800c8"/><rect x="664.71" y="347.10" width="15.40" height="75.90" fill="#a000a0"/><rect x="665.51" y="347.90" width="13.80" height="75.90" fill="#c800c8"/><rect x="681.01" y="194.10" width="15.40" height="228.90" fill="#a000a0"/><rect x="681.81" y="194.90" width="13.80" height="228.90" fill="#c800c8"/><rect x="697.30" y="96.10" width="15.40" height="326.90" fill="#a000a0"/><rect x="698.10" y="96.90" width="13.80" height="326.90" fill="#c800c8"/><rect x="713.60" y="135.20" width="15.40" height="287.80" fill="#a000a0"/><rect x="714.40" y="136.00" width="13.80" height="287.80" fill="#c800c8"/><rect x="729.90" y="279.00" width="15.40" height="144.00" fill="#a000a0"/><rect x="730.70" y="279.80" width="13.80" height="144.00" fill="#c800c8"/><rect x="746.19" y="384.90" width="15.40" height="38.10" fill="#a000a0"/><rect x="746.99" y="385.70" width="13.80" height="38.10" fill="#c800c8"/><rect x="150.00" y="423.00" width="719.00" height="1.00" fill="#7a1e1e"/></svg>
<div class="wm" style="left:17px;top:122.2px;font-size:44px;letter-spacing:0.5px;transform-origin:0 39.8px;transform:rotate(-29.3deg);color:rgba(255,255,255,0.15)">chem17.com</div><div class="wm" style="left:705px;top:615.2px;font-size:44px;letter-spacing:0px;transform-origin:0 39.8px;transform:rotate(-29.9deg);color:transparent;-webkit-text-stroke:1px rgba(0,0,0,0.05)">chem17.com</div>
<div class="t" style="left:18.95px;top:21.50px;font-size:14px;color:#b80818;font-weight:700;transform:scaleX(0.9985);">REL.</div><div class="t" style="left:369.29px;top:19.65px;font-size:15.7px;color:#c41ab0;font-weight:400;transform:scaleX(1.0355);-webkit-text-stroke:0.45px #c41ab0">INTENS-WT NICOMP DISTRIBUTION</div><div class="t" style="left:69.30px;top:85.46px;font-size:14px;color:#0c0c70;font-weight:700;transform:scaleX(1.0140);">100</div><div class="t" style="left:74.55px;top:151.41px;font-size:14px;color:#0c0c70;font-weight:700;transform:scaleX(1.0179);">80</div><div class="t" style="left:74.35px;top:216.41px;font-size:14px;color:#0c0c70;font-weight:700;transform:scaleX(1.0103);">60</div><div class="t" style="left:74.38px;top:281.49px;font-size:14px;color:#0c0c70;font-weight:700;transform:scaleX(0.9995);">40</div><div class="t" style="left:74.39px;top:347.40px;font-size:14px;color:#0c0c70;font-weight:700;transform:scaleX(1.0186);">20</div><div class="t" style="left:78.23px;top:411.82px;font-size:14px;color:#0c0c70;font-weight:700;transform:scaleX(0.9856);">0</div><div class="t" style="left:119.40px;top:437.22px;font-size:14px;color:#0c0c70;font-weight:700;transform:scaleX(0.7600);">1</div><div class="t" style="left:209.27px;top:437.43px;font-size:14px;color:#0c0c70;font-weight:700;transform:scaleX(1.0952);">2</div><div class="t" style="left:304.52px;top:436.50px;font-size:14px;color:#0c0c70;font-weight:700;transform:scaleX(1.0856);">5</div><div class="t" style="left:377.12px;top:436.50px;font-size:14px;color:#0c0c70;font-weight:700;transform:scaleX(1.0508);">10</div><div class="t" style="left:448.89px;top:437.46px;font-size:14px;color:#0c0c70;font-weight:700;transform:scaleX(1.0451);">20</div><div class="t" style="left:543.57px;top:436.50px;font-size:14px;color:#0c0c70;font-weight:700;transform:scaleX(1.0620);">50</div><div class="t" style="left:615.39px;top:437.48px;font-size:14px;color:#0c0c70;font-weight:700;transform:scaleX(1.0311);">100</div><div class="t" style="left:688.11px;top:437.46px;font-size:14px;color:#0c0c70;font-weight:700;transform:scaleX(1.0363);">200</div><div class="t" style="left:783.62px;top:436.50px;font-size:14px;color:#0c0c70;font-weight:700;transform:scaleX(1.0422);">500</div><div class="t" style="left:855.68px;top:437.47px;font-size:14px;color:#0c0c70;font-weight:700;transform:scaleX(0.9625);">1K</div><div class="t" style="left:30.60px;top:464.40px;font-size:13.6px;color:#c0001a;font-weight:700;transform:scaleX(0.9914);">Diam (nm) -&gt;</div><div class="t" style="left:-1.50px;top:518.15px;font-size:14px;color:#8a1a9a;font-weight:700;transform:scaleX(0.9880);">SERUM.316</div><div class="t" style="left:21.20px;top:548.25px;font-size:14px;color:#000000;font-weight:700;transform:scaleX(0.9687);">Diameter(nm) :</div><div class="t" style="left:20.80px;top:574.25px;font-size:14px;color:#000000;font-weight:700;transform:scaleX(0.9784);">S.Dev.(nm/%) :</div><div class="t" style="left:21.16px;top:605.25px;font-size:14px;color:#000000;font-weight:700;transform:scaleX(0.9567);">Percent</div><div class="t" style="left:93.27px;top:605.18px;font-size:14px;color:#000000;font-weight:700;transform:scaleX(1.2293);">:</div><div class="t" style="left:9.21px;top:640.25px;font-size:14px;color:#b01020;font-weight:700;transform:scaleX(0.9513);">Printout ID:</div><div class="t" style="left:176.53px;top:639.25px;font-size:14px;color:#0c0c70;font-weight:700;transform:scaleX(0.9612);">Serum</div><div class="t" style="left:211.85px;top:548.25px;font-size:14px;color:#0c0c70;font-weight:700;transform:scaleX(0.9693);">#1—7.0 nm</div><div class="t" style="left:211.39px;top:574.25px;font-size:14px;color:#0c0c70;font-weight:700;transform:scaleX(0.9775);">1.1 nm (16.2%)</div><div class="t" style="left:211.79px;top:604.73px;font-size:14px;color:#0c0c70;font-weight:700;transform:scaleX(0.9817);">3.1 %</div><div class="t" style="left:474.06px;top:548.23px;font-size:14px;color:#0c0c70;font-weight:700;transform:scaleX(0.9783);">#2—29.3 nm</div><div class="t" style="left:473.67px;top:574.25px;font-size:14px;color:#0c0c70;font-weight:700;transform:scaleX(0.9801);">5.0 nm (16.9%)</div><div class="t" style="left:474.00px;top:604.75px;font-size:14px;color:#0c0c70;font-weight:700;transform:scaleX(0.9918);">24.4 %</div><div class="t" style="left:737.04px;top:547.75px;font-size:14px;color:#0c0c70;font-weight:700;transform:scaleX(0.9815);">#3—217.5 nm</div><div class="t" style="left:737.68px;top:574.25px;font-size:14px;color:#0c0c70;font-weight:700;transform:scaleX(0.9688);">45.4 nm (20.9%)</div><div class="t" style="left:736.95px;top:604.75px;font-size:14px;color:#0c0c70;font-weight:700;transform:scaleX(0.9882);">72.5 %</div>
<svg width="952" height="668" style="position:absolute;left:0;top:0"><rect x="0" y="0" width="2" height="668" fill="#000"/><rect x="0" y="0" width="952" height="2" fill="#000"/><rect x="951" y="0" width="1" height="668" fill="#000"/><rect x="0" y="667" width="952" height="1" fill="#000"/><line x1="2.5" y1="0" x2="2.5" y2="668" stroke="#000" stroke-width="1" stroke-dasharray="1 1"/><line x1="0" y1="2.5" x2="952" y2="2.5" stroke="#000" stroke-width="1" stroke-dasharray="1 1"/><line x1="950.5" y1="0" x2="950.5" y2="668" stroke="#000" stroke-width="1" stroke-dasharray="1 1"/><line x1="0" y1="666.5" x2="952" y2="666.5" stroke="#000" stroke-width="1" stroke-dasharray="1 1"/></svg>
</div></body></html>
